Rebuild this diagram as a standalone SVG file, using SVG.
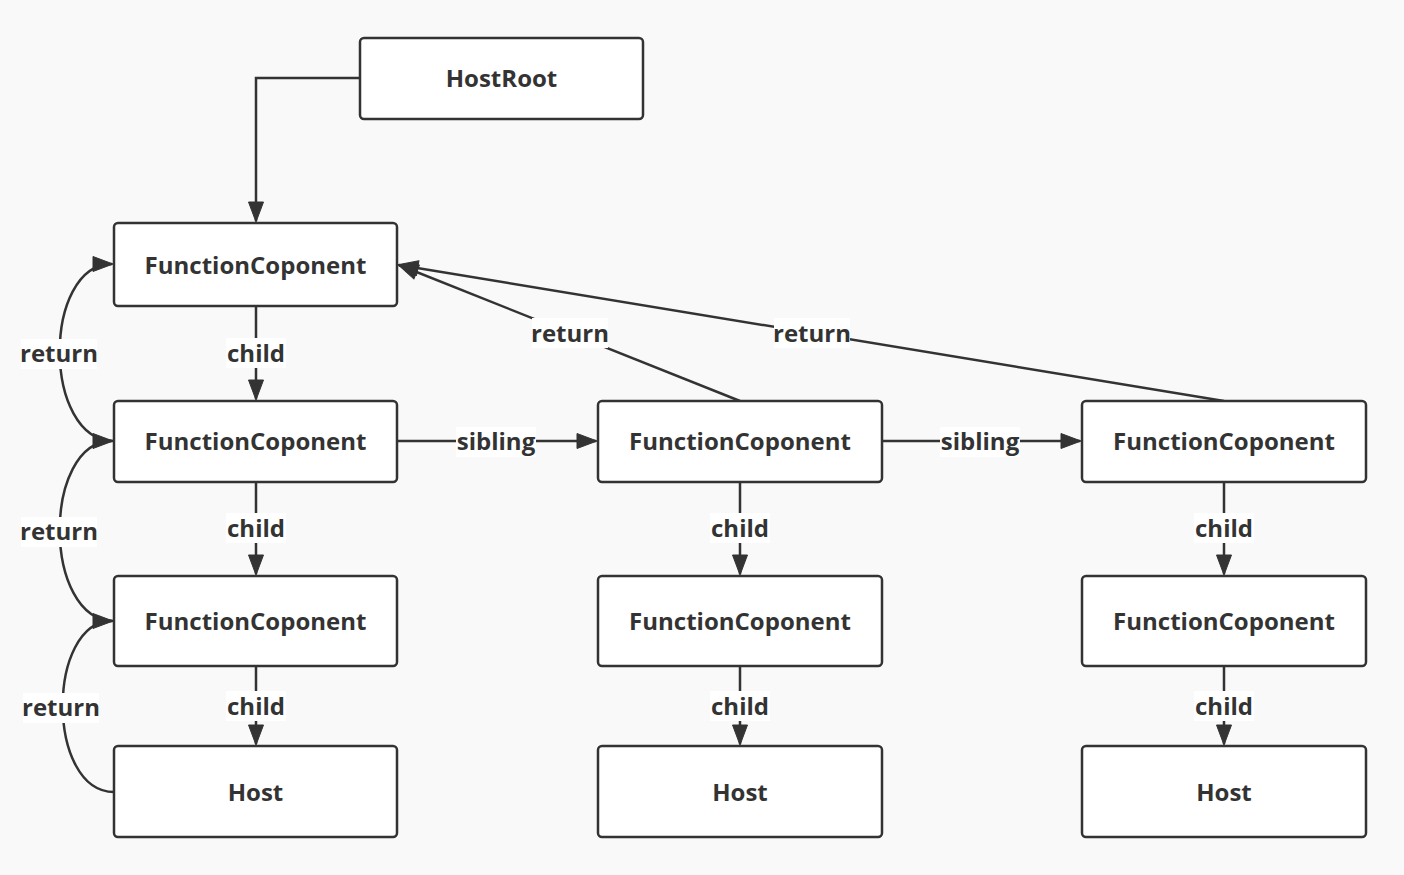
<svg xmlns="http://www.w3.org/2000/svg" width="1404" height="875" viewBox="0 0 1404 875">
<defs>
<marker id="arr" viewBox="0 0 20 16" refX="19" refY="8" markerWidth="20" markerHeight="16" markerUnits="userSpaceOnUse" orient="auto" overflow="visible">
<path d="M0,0.5 L20,8 L0,15.5 Z" fill="#333" stroke="#333" stroke-width="1" stroke-linejoin="round"/>
</marker>
<style>
.node rect{fill:#fff;stroke:#333;stroke-width:2.5}
.node text{font-family:"Open Sans","Noto Sans","DejaVu Sans",sans-serif;font-weight:bold;font-size:24px;fill:#333;text-anchor:middle;dominant-baseline:central}
.edge{fill:none;stroke:#333;stroke-width:2.5}
.lbl rect{fill:#fff}
.lbl text{font-family:"Open Sans","Noto Sans","DejaVu Sans",sans-serif;font-weight:bold;font-size:24px;fill:#333;text-anchor:middle;dominant-baseline:central}
</style>
</defs>
<rect width="1404" height="875" fill="#f9f9f9"/>
<g id="connectors">
<path class="edge" d="M360,78 L256,78 L256,221" marker-end="url(#arr)"/>
<path class="edge" d="M256,306 L256,399" marker-end="url(#arr)"/>
<path class="edge" d="M256,482 L256,574" marker-end="url(#arr)"/>
<path class="edge" d="M256,666 L256,744" marker-end="url(#arr)"/>
<path class="edge" d="M740,482 L740,574" marker-end="url(#arr)"/>
<path class="edge" d="M740,666 L740,744" marker-end="url(#arr)"/>
<path class="edge" d="M1224,482 L1224,574" marker-end="url(#arr)"/>
<path class="edge" d="M1224,666 L1224,744" marker-end="url(#arr)"/>
<path class="edge" d="M397,441 L596,441" marker-end="url(#arr)"/>
<path class="edge" d="M882,441 L1080,441" marker-end="url(#arr)"/>
<path class="edge" d="M740,401 L399,265" marker-end="url(#arr)"/>
<path class="edge" d="M1224,401 L399,265" marker-end="url(#arr)"/>
<path class="edge" d="M114,441 C42,441 42,264 112,264" marker-end="url(#arr)"/>
<path class="edge" d="M114,621 C42,621 42,441 112,441" marker-end="url(#arr)"/>
<path class="edge" d="M114,792 C46,792 46,621 112,621" marker-end="url(#arr)"/>
<g class="lbl">
<rect x="226" y="338" width="60" height="30"/><text x="256" y="352">child</text>
<rect x="226" y="513" width="60" height="30"/><text x="256" y="527">child</text>
<rect x="226" y="691" width="60" height="30"/><text x="256" y="705">child</text>
<rect x="710" y="513" width="60" height="30"/><text x="740" y="527">child</text>
<rect x="710" y="691" width="60" height="30"/><text x="740" y="705">child</text>
<rect x="1194" y="513" width="60" height="30"/><text x="1224" y="527">child</text>
<rect x="1194" y="691" width="60" height="30"/><text x="1224" y="705">child</text>
<rect x="456" y="427" width="80" height="30"/><text x="496" y="440">sibling</text>
<rect x="940" y="427" width="80" height="30"/><text x="980" y="440">sibling</text>
<rect x="532" y="318" width="76" height="30"/><text x="570" y="332">return</text>
<rect x="774" y="318" width="76" height="30"/><text x="812" y="332">return</text>
<rect x="21" y="339" width="76" height="30"/><text x="59" y="352">return</text>
<rect x="21" y="517" width="76" height="30"/><text x="59" y="530">return</text>
<rect x="23" y="693" width="76" height="30"/><text x="61" y="706">return</text>
</g>
</g>
<g id="hostroot" class="node"><rect x="360" y="38" width="283" height="81" rx="4"/><text x="501.5" y="77">HostRoot</text></g>
<g id="fc1" class="node"><rect x="114" y="223" width="283" height="83" rx="4"/><text x="255.5" y="264">FunctionCoponent</text></g>
<g id="fc2a" class="node"><rect x="114" y="401" width="283" height="81" rx="4"/><text x="255.5" y="440">FunctionCoponent</text></g>
<g id="fc2b" class="node"><rect x="598" y="401" width="284" height="81" rx="4"/><text x="740" y="440">FunctionCoponent</text></g>
<g id="fc2c" class="node"><rect x="1082" y="401" width="284" height="81" rx="4"/><text x="1224" y="440">FunctionCoponent</text></g>
<g id="fc3a" class="node"><rect x="114" y="576" width="283" height="90" rx="4"/><text x="255.5" y="620">FunctionCoponent</text></g>
<g id="fc3b" class="node"><rect x="598" y="576" width="284" height="90" rx="4"/><text x="740" y="620">FunctionCoponent</text></g>
<g id="fc3c" class="node"><rect x="1082" y="576" width="284" height="90" rx="4"/><text x="1224" y="620">FunctionCoponent</text></g>
<g id="host1" class="node"><rect x="114" y="746" width="283" height="91" rx="4"/><text x="255.5" y="791">Host</text></g>
<g id="host2" class="node"><rect x="598" y="746" width="284" height="91" rx="4"/><text x="740" y="791">Host</text></g>
<g id="host3" class="node"><rect x="1082" y="746" width="284" height="91" rx="4"/><text x="1224" y="791">Host</text></g>
</svg>
